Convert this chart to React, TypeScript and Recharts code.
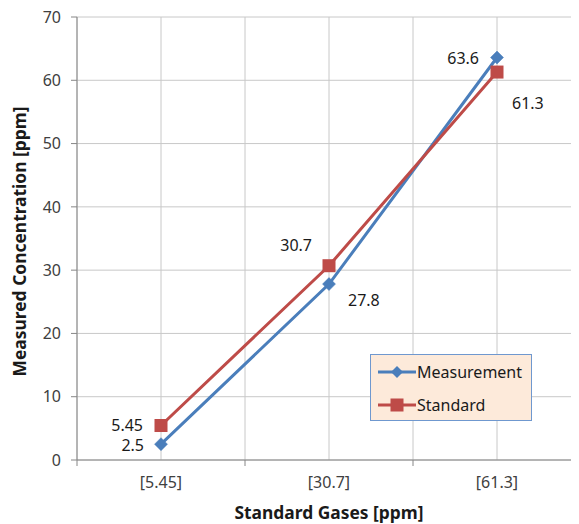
import React from "react";
import {
  LineChart,
  Line,
  XAxis,
  YAxis,
  CartesianGrid,
  LabelList,
  Label,
} from "recharts";

const categories = ["[5.45]", "[30.7]", "[61.3]"];
const measurement = [2.5, 27.8, 63.6];
const standard = [5.45, 30.7, 61.3];
const measurementLabels = ["2.5", "27.8", "63.6"];
const standardLabels = ["5.45", "30.7", "61.3"];
const yTicks = [0, 10, 20, 30, 40, 50, 60, 70];
const seriesNames = ["Measurement", "Standard"];

// label placements (style, not data): [dx, dy, anchor]
const measurementPlacement: [number, number, string][] = [
  [-17, 1, "end"],
  [19, 16, "start"],
  [-18, 0, "end"],
];
const standardPlacement: [number, number, string][] = [
  [-18, -1, "end"],
  [-17, -21, "end"],
  [15, 31, "start"],
];

const BLUE = "#4A7EBB";
const RED = "#BE4B48";
const FONT = "'Noto Sans', sans-serif";

const data = categories.map((c, i) => ({
  x: i + 0.5,
  name: c,
  measurement: measurement[i],
  standard: standard[i],
}));

const gridTicks: number[] = [];
for (let i = 0; i <= categories.length * 2; i++) gridTicks.push(i / 2);

const Diamond = (props: any) => {
  const { cx, cy } = props;
  if (cx == null || cy == null) return null;
  const r = 6.5;
  return (
    <path
      d={`M${cx},${cy - r} L${cx + r},${cy} L${cx},${cy + r} L${cx - r},${cy} Z`}
      fill={BLUE}
      stroke={BLUE}
      strokeWidth={0.5}
    />
  );
};

const Square = (props: any) => {
  const { cx, cy } = props;
  if (cx == null || cy == null) return null;
  const s = 13;
  return <rect x={cx - s / 2} y={cy - s / 2} width={s} height={s} fill={RED} />;
};

const makeLabel =
  (labels: string[], placement: [number, number, string][]) => (props: any) => {
    const { x, y, index } = props;
    const [dx, dy, anchor] = placement[index];
    return (
      <text
        x={x + dx}
        y={y + dy}
        textAnchor={anchor as any}
        dominantBaseline="central"
        fontFamily={FONT}
        fontSize={16}
        fill="#1a1a1a"
      >
        {labels[index]}
      </text>
    );
  };

const XTick = (props: any) => {
  const { x, y, payload } = props;
  const v = payload.value as number;
  const isBoundary = Math.abs(v - Math.round(v)) < 1e-6;
  if (isBoundary) {
    return <line x1={x} x2={x} y1={y} y2={y + 6} stroke="#868686" strokeWidth={1} />;
  }
  const idx = Math.floor(v);
  return (
    <text
      x={x}
      y={y + 22}
      textAnchor="middle"
      dominantBaseline="central"
      fontFamily={FONT}
      fontSize={16}
      fill="#404040"
    >
      {categories[idx]}
    </text>
  );
};

const LegendBox = () => (
  <div
    style={{
      position: "absolute",
      left: 362,
      top: 346,
      width: 160,
      height: 65,
      background: "#FDEADA",
      border: "1px solid #6F98CF",
      fontFamily: FONT,
      fontSize: 16,
      color: "#1a1a1a",
    }}
  >
    {[
      { label: seriesNames[0], color: BLUE, type: "diamond" },
      { label: seriesNames[1], color: RED, type: "square" },
    ].map((it) => (
      <div
        key={it.label}
        style={{
          display: "flex",
          alignItems: "center",
          height: 33,
        }}
      >
        <svg width={48} height={20} style={{ marginLeft: 6 }}>
          <line x1={1} x2={39} y1={10} y2={10} stroke={it.color} strokeWidth={3} />
          {it.type === "diamond" ? (
            <path d="M20,4 L26,10 L20,16 L14,10 Z" fill={it.color} />
          ) : (
            <rect x={13.5} y={3.5} width={13} height={13} fill={it.color} />
          )}
        </svg>
        <span style={{ marginLeft: -8 }}>{it.label}</span>
      </div>
    ))}
  </div>
);

export default function App() {
  return (
    <div style={{ width: 579, height: 516, position: "relative" }}>
      <LineChart
        width={579}
        height={516}
        data={data}
        margin={{ top: 9, right: 6, bottom: 0, left: 0 }}
      >
        <CartesianGrid
          stroke="#C8C8C8"
          strokeWidth={1}
          verticalCoordinatesGenerator={(p: any) => {
            const off = p.offset;
            return gridTicks.map(
              (t) => off.left + (off.width * t) / categories.length
            );
          }}
        />
        <XAxis
          dataKey="x"
          type="number"
          domain={[0, categories.length]}
          ticks={gridTicks}
          interval={0}
          tickLine={false}
          tickSize={0}
          tickMargin={0}
          tick={<XTick />}
          axisLine={{ stroke: "#868686", strokeWidth: 1 }}
          height={64}
        >
          <Label
            content={(p: any) => {
              const vb = p.viewBox;
              return (
                <text
                  x={vb.x + vb.width / 2}
                  y={vb.y + 52}
                  textAnchor="middle"
                  dominantBaseline="central"
                  fontFamily={FONT}
                  fontSize={17.4}
                  fontWeight="bold"
                  fill="#1a1a1a"
                >
                  Standard Gases [ppm]
                </text>
              );
            }}
          />
        </XAxis>
        <YAxis
          domain={[0, 70]}
          ticks={yTicks}
          interval={0}
          width={69}
          tickSize={6}
          tickMargin={10}
          tickLine={{ stroke: "#868686" }}
          axisLine={{ stroke: "#868686", strokeWidth: 1 }}
          tick={{ fontFamily: FONT, fontSize: 16, fill: "#404040" }}
        >
          <Label
            content={(p: any) => {
              const vb = p.viewBox;
              const cx = vb.x + 11;
              const cy = vb.y + vb.height / 2 + 3;
              return (
                <text
                  x={cx}
                  y={cy}
                  transform={`rotate(-90, ${cx}, ${cy})`}
                  textAnchor="middle"
                  dominantBaseline="central"
                  fontFamily={FONT}
                  fontSize={17.4}
                  fontWeight="bold"
                  fill="#1a1a1a"
                >
                  Measured Concentration [ppm]
                </text>
              );
            }}
          />
        </YAxis>
        <Line
          type="linear"
          dataKey="measurement"
          name={seriesNames[0]}
          stroke={BLUE}
          strokeWidth={3}
          dot={<Diamond />}
          activeDot={false}
          isAnimationActive={false}
        >
          <LabelList dataKey="measurement" content={makeLabel(measurementLabels, measurementPlacement)} />
        </Line>
        <Line
          type="linear"
          dataKey="standard"
          name={seriesNames[1]}
          stroke={RED}
          strokeWidth={3}
          dot={<Square />}
          activeDot={false}
          isAnimationActive={false}
        >
          <LabelList dataKey="standard" content={makeLabel(standardLabels, standardPlacement)} />
        </Line>
      </LineChart>
      <LegendBox />
    </div>
  );
}
